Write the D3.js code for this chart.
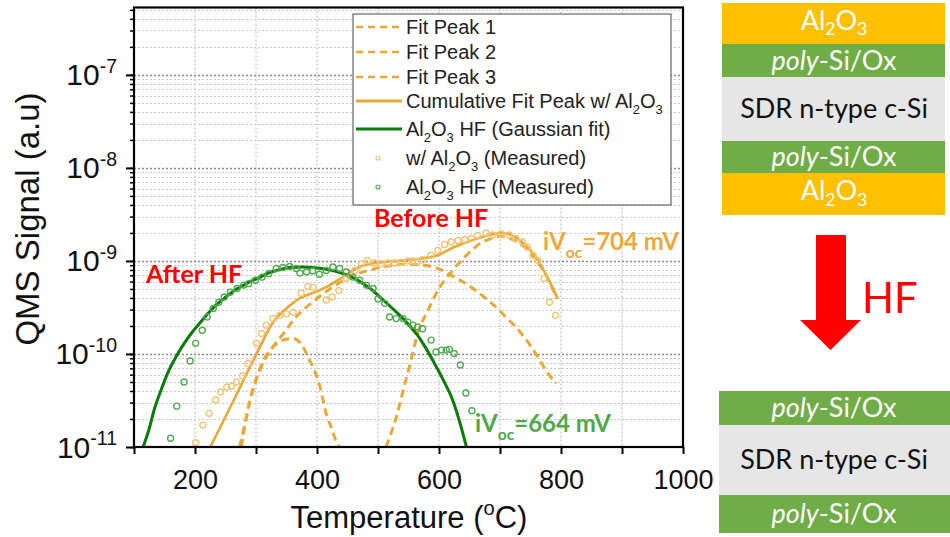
<!DOCTYPE html>
<html>
<head>
<meta charset="utf-8">
<script src="https://d3js.org/d3.v7.min.js"></script>
<style>
  body { margin: 0; background: #fff; }
  svg { display: block; font-family: 'Liberation Sans', Arial, sans-serif; }
</style>
</head>
<body>
<svg id="chart" width="950" height="537"></svg>
<script>
// ---- data (temperature in °C, QMS signal in a.u.) ----
const hfFitT = [115, 125, 133, 145, 155, 168, 182, 195, 209, 222, 237, 250, 264, 280, 291, 305, 320, 340, 355, 375,
  399, 418, 443, 465, 487, 509, 530, 548, 565, 577, 598, 610, 620, 628, 636, 641, 645];
const hfFitV = [1.0e-11, 1.58e-11, 2.5e-11, 4.2e-11, 6.2e-11, 9.1e-11, 1.29e-10, 1.7e-10, 2.19e-10, 2.75e-10, 3.47e-10,
  4.07e-10, 4.79e-10, 5.5e-10, 6.03e-10, 6.6e-10, 7.4e-10, 8.1e-10, 8.5e-10, 8.6e-10,
  8.4e-10, 8.1e-10, 7.3e-10, 6.3e-10, 5.05e-10, 3.78e-10, 2.82e-10, 2.14e-10, 1.58e-10, 1.2e-10, 6.8e-11, 4.8e-11,
  3.5e-11, 2.5e-11, 1.66e-11, 1.26e-11, 1.0e-11];

const cumFitT = [225, 242, 264, 285, 300, 312, 323, 340, 355, 372, 399, 421, 443, 464, 486, 514, 541, 571, 598, 625,
  653, 680, 702, 724, 745, 762, 775, 786, 794];
const cumFitV = [1.0e-11, 1.66e-11, 3.24e-11, 6.2e-11, 9.8e-11, 1.41e-10, 1.95e-10, 2.7e-10, 3.3e-10, 3.98e-10,
  4.68e-10, 5.5e-10, 6.76e-10, 8.3e-10, 9.3e-10, 9.8e-10, 1.01e-9, 1.06e-9, 1.15e-9, 1.41e-9,
  1.66e-9, 1.88e-9, 2.0e-9, 1.82e-9, 1.41e-9, 1.02e-9, 7.2e-10, 5.2e-10, 4.0e-10];

const peak1T = [273, 282, 290, 300, 312, 328, 344, 361, 377, 388, 394, 405, 415, 424, 432, 437];
const peak1V = [1.0e-11, 1.78e-11, 3.16e-11, 5.2e-11, 8.5e-11, 1.19e-10, 1.41e-10, 1.47e-10, 1.19e-10, 8.5e-11,
  7.1e-11, 4.4e-11, 2.3e-11, 1.58e-11, 1.12e-11, 1.0e-11];

const peak2T = [276, 285, 295, 310, 328, 345, 366, 383, 399, 425, 455, 490, 520, 545, 576, 598, 620, 653, 680, 707,
  735, 762, 775, 792];
const peak2V = [1.0e-11, 2.2e-11, 4.2e-11, 7.6e-11, 1.2e-10, 1.66e-10, 2.51e-10, 3.2e-10, 3.9e-10, 5.2e-10, 6.8e-10,
  8.1e-10, 8.9e-10, 9.2e-10, 9.0e-10, 8.3e-10, 7.0e-10, 5.2e-10, 3.8e-10, 2.6e-10, 1.66e-10, 9.3e-11, 6.7e-11, 4.8e-11];

const peak3T = [513, 530, 543, 554, 565, 582, 598, 620, 642, 663, 685, 702, 720, 745, 762, 775, 786, 794];
const peak3V = [1.0e-11, 2.1e-11, 4.5e-11, 8.5e-11, 1.66e-10, 2.95e-10, 4.8e-10, 7.6e-10, 1.1e-9, 1.47e-9, 1.74e-9,
  1.84e-9, 1.7e-9, 1.32e-9, 9.8e-10, 7.1e-10, 5.1e-10, 3.9e-10];

const withAlT = [201, 213, 223, 234, 242, 252, 260, 268, 278, 287, 301, 309, 317, 328, 339, 350, 361, 374, 385, 393,
  415, 425, 436, 448, 462, 473, 483, 494, 505, 516, 527, 538, 549, 557, 565, 573, 587, 598, 609, 620,
  631, 642, 653, 663, 677, 688, 702, 715, 726, 737, 745, 754, 762, 772, 781, 791];
const withAlV = [1.11e-11, 1.72e-11, 2.3e-11, 3.2e-11, 3.9e-11, 4.4e-11, 4.5e-11, 5.0e-11, 5.8e-11, 7.9e-11, 1.3e-10,
  1.66e-10, 2.04e-10, 2.4e-10, 2.6e-10, 2.7e-10, 2.8e-10, 4.5e-10, 5.3e-10, 5.2e-10,
  3.8e-10, 4.1e-10, 4.8e-10, 6.5e-10, 7.9e-10, 9.3e-10, 1.01e-9, 9.5e-10, 9.3e-10, 9.5e-10, 9.5e-10, 9.7e-10,
  1.0e-9, 1.0e-9, 9.8e-10, 1.03e-9, 1.15e-9, 1.3e-9, 1.5e-9, 1.6e-9,
  1.66e-9, 1.69e-9, 1.74e-9, 1.88e-9, 2.0e-9, 1.9e-9, 1.95e-9, 1.9e-9, 1.74e-9, 1.6e-9, 1.41e-9, 1.15e-9,
  1.01e-9, 6.5e-10, 3.6e-10, 2.6e-10];

const hfMeasT = [160, 170, 182, 192, 201, 212, 220, 230, 239, 248, 258, 269, 280, 288, 299, 310, 321, 333, 344, 355,
  366, 372, 383, 393, 404, 415, 426, 437, 448, 459, 470, 481, 492, 500, 511, 519, 530, 541, 549, 557,
  565, 573, 587, 595, 604, 612, 617, 625, 635, 644, 654];
const hfMeasV = [1.24e-11, 2.75e-11, 5.0e-11, 8.4e-11, 1.3e-10, 1.8e-10, 2.5e-10, 3.08e-10, 3.6e-10, 4.1e-10,
  4.6e-10, 5.05e-10, 5.5e-10, 5.7e-10, 6.2e-10, 6.7e-10, 7.3e-10, 8.3e-10, 8.5e-10, 8.7e-10,
  8.3e-10, 7.4e-10, 7.6e-10, 7.8e-10, 7.2e-10, 7.9e-10, 8.6e-10, 8.3e-10, 7.6e-10, 6.7e-10,
  6.2e-10, 5.5e-10, 5.05e-10, 3.9e-10, 3.5e-10, 2.5e-10, 2.4e-10, 2.4e-10, 2.2e-10, 2.04e-10,
  1.95e-10, 1.87e-10, 1.41e-10, 1.05e-10, 1.1e-10, 1.1e-10, 1.12e-10, 1.01e-10, 7.6e-11, 3.8e-11, 2.45e-11];

const xTickVals = [100, 200, 300, 400, 500, 600, 700, 800, 900, 1000];
const xTickLabels = [200, 400, 600, 800, 1000];
const yTickExps = [-11, -10, -9, -8, -7];

// ---- colours ----
const ORANGE = "#E8A936", ORANGE_PT = "#F1C476";
const GREEN = "#0A7C0A", GREEN_PT = "#52AA52";
const RED = "#FF0000";

const svg = d3.select("#chart");
const x = d3.scaleLinear().domain([100, 1000]).range([134, 683]);
const y = d3.scaleLog().domain([1e-11, 5.3e-7]).range([447, 7.5]);

// rich text helper: parts = [[text, kind]], kind: "sub" | "sup" | "it" | undefined
function rich(sel, parts, size, subShift) {
  let shift = 0;
  const sub = subShift === undefined ? 0.32 : subShift;
  parts.forEach(([s, kind]) => {
    const t = sel.append("tspan").text(s);
    const target = kind === "sub" ? size * sub : kind === "sup" ? -size * 0.42 : 0;
    if (target - shift !== 0) t.attr("dy", target - shift);
    if (kind === "sub" || kind === "sup") t.attr("font-size", size * 0.65);
    if (kind === "it") t.attr("font-style", "italic");
    shift = target;
  });
  return sel;
}

// ---- grid ----
const grid = svg.append("g");
grid.selectAll(".vg").data(xTickVals.filter(d => d > 100 && d < 1000)).enter().append("line")
  .attr("x1", d => x(d)).attr("x2", d => x(d)).attr("y1", y.range()[1]).attr("y2", y.range()[0])
  .attr("stroke", "#b4b4b4").attr("stroke-width", 1).attr("stroke-dasharray", "2,2");
const yAll = y.ticks();
const isDecade = d => Number.isInteger(Math.round(Math.log10(d) * 1000) / 1000);
grid.selectAll(".hg").data(yAll.filter(d => d > 1e-11)).enter().append("line")
  .attr("x1", x.range()[0]).attr("x2", x.range()[1])
  .attr("y1", d => Math.round(y(d)) + 0.5).attr("y2", d => Math.round(y(d)) + 0.5)
  .attr("stroke", d => isDecade(d) ? "#8a8a8a" : "#cacaca")
  .attr("stroke-width", d => isDecade(d) ? 1.3 : 1)
  .attr("stroke-dasharray", "2,2");

// ---- curves ----
svg.append("clipPath").attr("id", "plotClip").append("rect")
  .attr("x", 134).attr("y", 7.5).attr("width", 549).attr("height", 439.5);
const plot = svg.append("g").attr("clip-path", "url(#plotClip)");
const line = d3.line().x(d => x(d[0])).y(d => y(d[1])).curve(d3.curveMonotoneX);

[[peak1T, peak1V], [peak2T, peak2V], [peak3T, peak3V]].forEach(([t, v]) => {
  plot.append("path").datum(d3.zip(t, v)).attr("d", line)
    .attr("fill", "none").attr("stroke", ORANGE).attr("stroke-width", 3).attr("stroke-dasharray", "8,5");
});
plot.append("path").datum(d3.zip(cumFitT, cumFitV)).attr("d", line)
  .attr("fill", "none").attr("stroke", ORANGE).attr("stroke-width", 2.6);
plot.append("path").datum(d3.zip(hfFitT, hfFitV)).attr("d", line)
  .attr("fill", "none").attr("stroke", GREEN).attr("stroke-width", 3);

plot.selectAll(".pa").data(d3.zip(withAlT, withAlV)).enter().append("circle")
  .attr("cx", d => x(d[0])).attr("cy", d => y(d[1])).attr("r", 3)
  .attr("fill", "none").attr("stroke", ORANGE_PT).attr("stroke-width", 1.4);
plot.selectAll(".pg").data(d3.zip(hfMeasT, hfMeasV)).enter().append("circle")
  .attr("cx", d => x(d[0])).attr("cy", d => y(d[1])).attr("r", 3)
  .attr("fill", "none").attr("stroke", GREEN_PT).attr("stroke-width", 1.4);

// ---- axes ----
const xAxis = svg.append("g").attr("transform", "translate(0,447)")
  .call(d3.axisBottom(x).tickValues(xTickVals).tickSize(7)
    .tickFormat(d => xTickLabels.includes(d) ? d : ""));
xAxis.select(".domain").remove();
xAxis.selectAll(".tick line").attr("stroke", "#000").attr("stroke-width", 2);
xAxis.selectAll(".tick text").attr("font-size", 27).attr("fill", "#111")
  .attr("font-family", "'Liberation Sans', Arial, sans-serif").attr("y", 23);

const yMinor = svg.append("g").attr("transform", "translate(134,0)")
  .call(d3.axisLeft(y).tickValues(yAll).tickSize(4).tickFormat(""));
yMinor.select(".domain").remove();
yMinor.selectAll(".tick line").attr("stroke", "#000").attr("stroke-width", 1.5);
const yMajor = svg.append("g").attr("transform", "translate(134,0)")
  .call(d3.axisLeft(y).tickValues(yTickExps.map(e => Math.pow(10, e))).tickSize(8).tickFormat(""));
yMajor.select(".domain").remove();
yMajor.selectAll(".tick line").attr("stroke", "#000").attr("stroke-width", 2);
yTickExps.forEach(e => {
  rich(svg.append("text").attr("x", 117).attr("y", y(Math.pow(10, e)) + 10.5)
    .attr("text-anchor", "end").attr("font-size", 30).attr("fill", "#111"),
    [["10"], [String(e), "sup"]], 30);
});

// frame
svg.append("rect").attr("x", 134).attr("y", 7.5).attr("width", 549).attr("height", 439.5)
  .attr("fill", "none").attr("stroke", "#000").attr("stroke-width", 2.2);

// axis titles
rich(svg.append("text").attr("x", 409).attr("y", 528).attr("text-anchor", "middle")
  .attr("font-size", 31).attr("fill", "#111"),
  [["Temperature ("], ["o", "sup"], ["C)"]], 31);
svg.append("text").attr("transform", "translate(39,219) rotate(-90)").attr("text-anchor", "middle")
  .attr("font-size", 33).attr("fill", "#111").text("QMS Signal (a.u)");

// ---- legend ----
const legend = svg.append("g");
legend.append("rect").attr("x", 353).attr("y", 14).attr("width", 318).attr("height", 191)
  .attr("fill", "#fff").attr("stroke", "#666").attr("stroke-width", 1.2);
const legendItems = [
  { type: "dash", color: ORANGE, label: [["Fit Peak 1"]] },
  { type: "dash", color: ORANGE, label: [["Fit Peak 2"]] },
  { type: "dash", color: ORANGE, label: [["Fit Peak 3"]] },
  { type: "line", color: ORANGE, label: [["Cumulative Fit Peak w/ Al"], ["2", "sub"], ["O"], ["3", "sub"]] },
  { type: "line", color: GREEN, label: [["Al"], ["2", "sub"], ["O"], ["3", "sub"], [" HF (Gaussian fit)"]] },
  { type: "dot", color: ORANGE_PT, label: [["w/ Al"], ["2", "sub"], ["O"], ["3", "sub"], [" (Measured)"]] },
  { type: "dot", color: GREEN_PT, label: [["Al"], ["2", "sub"], ["O"], ["3", "sub"], [" HF (Measured)"]] }
];
const legendY = [27, 52, 77, 101, 129, 158, 187];
legendItems.forEach((it, i) => {
  const cy = legendY[i];
  if (it.type === "dot") {
    legend.append("circle").attr("cx", 378).attr("cy", cy).attr("r", 2)
      .attr("fill", "none").attr("stroke", it.color).attr("stroke-width", 1.2);
  } else {
    legend.append("line").attr("x1", 356).attr("x2", 402).attr("y1", cy).attr("y2", cy)
      .attr("stroke", it.color).attr("stroke-width", it.type === "dash" ? 2.6 : 2.8)
      .attr("stroke-dasharray", it.type === "dash" ? "7,5" : null);
  }
  rich(legend.append("text").attr("x", 406).attr("y", cy + 7).attr("font-size", 20).attr("fill", "#222"),
    it.label, 20, 0.28);
});

// ---- annotations ----
const annFont = "Lato, 'Open Sans', sans-serif";
svg.append("text").attr("x", 146).attr("y", 283).attr("font-family", annFont).attr("font-weight", "bold")
  .attr("font-size", 25).attr("fill", RED).text("After HF");
svg.append("text").attr("x", 374).attr("y", 227).attr("font-family", annFont).attr("font-weight", "bold")
  .attr("font-size", 25).attr("fill", RED).text("Before HF");
rich(svg.append("text").attr("x", 543).attr("y", 250).attr("font-family", annFont).attr("font-weight", "bold")
  .attr("font-size", 24).attr("fill", "#EBAA3A"), [["iV"], ["oc", "sub"], ["=704 mV"]], 24);
rich(svg.append("text").attr("x", 475).attr("y", 432).attr("font-family", annFont).attr("font-weight", "bold")
  .attr("font-size", 24).attr("fill", "#4FA84A"), [["iV"], ["oc", "sub"], ["=664 mV"]], 24);

// ---- layer stack schematic ----
const GOLD = "#FFC000", LGREEN = "#70AD47", GREY = "#E7E6E6";
const topStack = [
  { y0: 3, y1: 44, fill: GOLD, label: [["Al"], ["2", "sub"], ["O"], ["3", "sub"]], color: "#fff" },
  { y0: 44, y1: 77, fill: LGREEN, label: [["poly", "it"], ["-Si/Ox"]], color: "#fff" },
  { y0: 77, y1: 141, fill: GREY, label: [["SDR n-type c-Si"]], color: "#111" },
  { y0: 141, y1: 173, fill: LGREEN, label: [["poly", "it"], ["-Si/Ox"]], color: "#fff" },
  { y0: 173, y1: 215, fill: GOLD, label: [["Al"], ["2", "sub"], ["O"], ["3", "sub"]], color: "#fff" }
];
const bottomStack = [
  { y0: 391, y1: 425, fill: LGREEN, label: [["poly", "it"], ["-Si/Ox"]], color: "#fff" },
  { y0: 425, y1: 495, fill: GREY, label: [["SDR n-type c-Si"]], color: "#111" },
  { y0: 495, y1: 533, fill: LGREEN, label: [["poly", "it"], ["-Si/Ox"]], color: "#fff" }
];
function drawStack(layers, x0, x1, cx) {
  const g = svg.append("g");
  layers.forEach(l => {
    g.append("rect").attr("x", x0).attr("y", l.y0).attr("width", x1 - x0).attr("height", l.y1 - l.y0)
      .attr("fill", l.fill);
  });
  layers.forEach(l => {
    const hasSub = l.label.some(p => p[1] === "sub");
    rich(g.append("text").attr("x", cx).attr("y", (l.y0 + l.y1) / 2 + (hasSub ? 6 : 9))
      .attr("text-anchor", "middle")
      .attr("font-family", "Lato, sans-serif").attr("font-size", 27).attr("fill", l.color), l.label, 27, 0.22);
  });
}
drawStack(topStack, 722, 945, 834);
drawStack(bottomStack, 719, 950, 834);

svg.append("path").attr("d", "M816,235 L846,235 L846,320 L861,320 L830.5,350 L800,320 L816,320 Z")
  .attr("fill", RED);
svg.append("text").attr("x", 862).attr("y", 313).attr("font-family", "Lato, sans-serif")
  .attr("font-size", 42).attr("fill", RED).text("HF");
</script>
</body>
</html>
